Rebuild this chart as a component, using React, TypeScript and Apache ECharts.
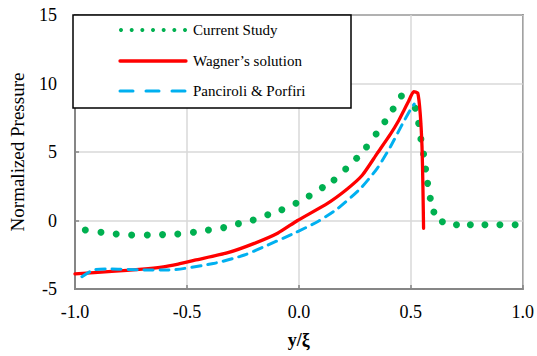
import React, { useEffect, useRef } from "react";
import * as echarts from "echarts";

const currentX = [-0.954, -0.884, -0.816, -0.747, -0.677, -0.609, -0.541, -0.471, -0.404, -0.336, -0.27, -0.204, -0.139, -0.076, -0.013, 0.046, 0.105, 0.157, 0.209, 0.258, 0.302, 0.345, 0.384, 0.421, 0.458, 0.52, 0.535, 0.545, 0.557, 0.566, 0.575, 0.587, 0.603, 0.641, 0.704, 0.766, 0.831, 0.898, 0.966];
const currentY = [-0.69, -0.86, -0.99, -1.06, -1.06, -1.03, -0.99, -0.86, -0.69, -0.52, -0.23, 0.04, 0.42, 0.79, 1.26, 1.79, 2.4, 2.96, 3.76, 4.54, 5.36, 6.31, 7.21, 8.14, 9.09, 8.2, 7.09, 5.95, 4.85, 3.76, 2.71, 1.62, 0.62, -0.09, -0.31, -0.31, -0.31, -0.31, -0.31];

const wagnerX = [-1.0, -0.836, -0.7, -0.613, -0.539, -0.465, -0.317, -0.199, -0.095, -0.006, 0.128, 0.216, 0.283, 0.35, 0.409, 0.446, 0.468, 0.49, 0.513, 0.531, 0.542, 0.55, 0.554, 0.557];
const wagnerY = [-3.9, -3.72, -3.55, -3.4, -3.18, -2.9, -2.35, -1.67, -0.93, 0.0, 1.25, 2.3, 3.3, 4.9, 6.3, 7.3, 8.0, 8.7, 9.4, 9.3, 7.8, 5.4, 2.5, -0.57];

const pancirolliX = [-0.969, -0.917, -0.836, -0.717, -0.584, -0.376, -0.243, -0.139, -0.021, 0.083, 0.172, 0.276, 0.35, 0.409, 0.461, 0.495, 0.515];
const pancirolliY = [-4.1, -3.61, -3.54, -3.6, -3.62, -3.12, -2.52, -1.79, -0.93, -0.09, 0.85, 2.35, 3.81, 5.39, 7.0, 8.0, 8.5];

const legendNames = ["Current Study", "Wagner\u2019s solution", "Panciroli & Porfiri"];
const xTicks = { min: -1, max: 1, interval: 0.5 };
const yTicks = { min: -5, max: 15, interval: 5 };

const zip = (xs: number[], ys: number[]) => xs.map((x, i) => [x, ys[i]]);

const GREEN = "#00b050";
const RED = "#ff0000";
const BLUE = "#00b0f0";
const FONT = "'Liberation Serif', 'Times New Roman', serif";

export default function App() {
  const ref = useRef<HTMLDivElement>(null);
  useEffect(() => {
    if (!ref.current) return;
    const chart = echarts.init(ref.current, null, { renderer: "svg" });
    const lx = 120;
    const lx2 = 186;
    const dots = [];
    for (let i = 0; i < 7; i++) {
      dots.push({
        type: "circle",
        shape: { cx: lx + 1 + (i * (lx2 - lx - 2)) / 6, cy: 30, r: 2 },
        style: { fill: GREEN },
        z: 101,
      });
    }
    chart.setOption({
      animation: false,
      textStyle: { fontFamily: FONT },
      grid: {
        left: 73,
        top: 15,
        width: 450,
        height: 274,
        show: true,
        borderColor: "#000",
        borderWidth: 1.5,
        backgroundColor: "#fff",
      },
      xAxis: {
        type: "value",
        min: xTicks.min,
        max: xTicks.max,
        interval: xTicks.interval,
        name: "y/\u03be",
        nameLocation: "middle",
        nameGap: 42,
        nameTextStyle: { fontFamily: FONT, fontSize: 18, fontWeight: "bold", color: "#000" },
        axisLine: { show: true, onZero: false, lineStyle: { color: "#868686", width: 2 } },
        axisTick: { show: true, inside: true, length: 4, lineStyle: { color: "#868686", width: 1.5 } },
        axisLabel: {
          fontFamily: FONT,
          fontSize: 18,
          color: "#000",
          margin: 14,
          formatter: (v: number) => v.toFixed(1),
        },
        splitLine: { show: true, lineStyle: { color: "#d9d9d9", width: 1.5 } },
      },
      yAxis: {
        type: "value",
        min: yTicks.min,
        max: yTicks.max,
        interval: yTicks.interval,
        name: "Normalized Pressure",
        nameLocation: "middle",
        nameGap: 48,
        nameTextStyle: { fontFamily: FONT, fontSize: 19, color: "#000" },
        axisLine: { show: true, onZero: false, lineStyle: { color: "#868686", width: 2 } },
        axisTick: { show: true, inside: true, length: 4, lineStyle: { color: "#868686", width: 1.5 } },
        axisLabel: { fontFamily: FONT, fontSize: 18, color: "#000", margin: 18 },
        splitLine: { show: true, lineStyle: { color: "#d9d9d9", width: 1.5 } },
      },
      series: [
        {
          name: legendNames[0],
          type: "scatter",
          data: zip(currentX, currentY),
          symbol: "circle",
          symbolSize: 7,
          itemStyle: { color: GREEN, opacity: 1 },
          z: 2,
        },
        {
          name: legendNames[1],
          type: "line",
          data: zip(wagnerX, wagnerY),
          showSymbol: false,
          smooth: 0.2,
          lineStyle: { color: RED, width: 3.3, cap: "round", join: "round" },
          z: 3,
        },
        {
          name: legendNames[2],
          type: "line",
          data: zip(pancirolliX, pancirolliY),
          showSymbol: false,
          smooth: 0.2,
          lineStyle: { color: BLUE, width: 3, type: [9, 7], cap: "round" },
          z: 4,
        },
      ],
      graphic: [
        {
          type: "rect",
          shape: { x: 73, y: 15, width: 278, height: 93 },
          style: { fill: "#fff", stroke: "#000", lineWidth: 1.5 },
          z: 100,
        },
        ...dots,
        {
          type: "line",
          shape: { x1: lx, y1: 61, x2: lx2, y2: 61 },
          style: { stroke: RED, lineWidth: 3.3, lineCap: "round" },
          z: 101,
        },
        {
          type: "line",
          shape: { x1: lx, y1: 91, x2: lx2, y2: 91 },
          style: { stroke: BLUE, lineWidth: 3, lineDash: [13, 13], lineCap: "round" },
          z: 101,
        },
        ...legendNames.map((n, i) => ({
          type: "text",
          x: 193,
          y: [30, 61, 91][i],
          style: {
            text: n,
            fontFamily: FONT,
            fontSize: 15,
            fill: "#000",
            verticalAlign: "middle",
            align: "left",
          },
          z: 101,
        })),
      ],
    });
    return () => chart.dispose();
  }, []);
  return (
    <div
      ref={ref}
      style={{ position: "fixed", left: 0, top: 0, width: 537, height: 356, background: "#fff" }}
    />
  );
}
